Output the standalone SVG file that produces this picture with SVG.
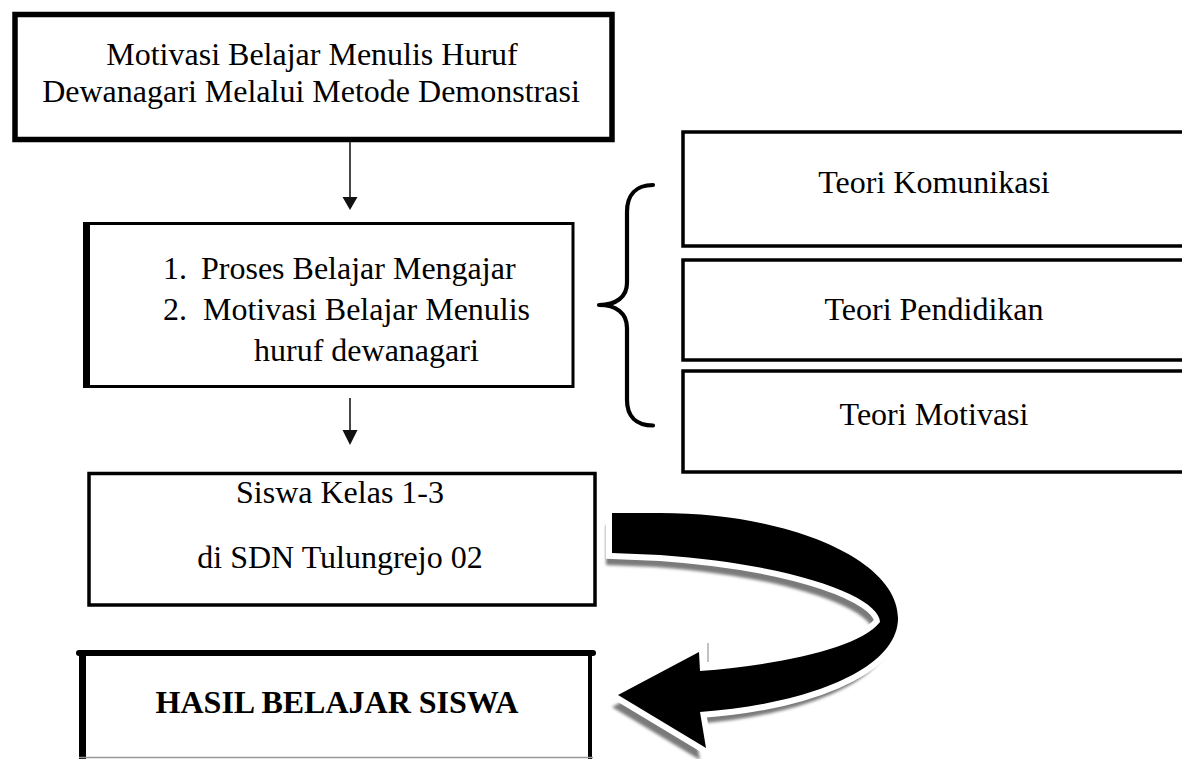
<svg xmlns="http://www.w3.org/2000/svg" width="1182" height="759" viewBox="0 0 1182 759">
<style>
  .t { font-family: "Liberation Serif", "Times New Roman", serif; font-size: 32px; fill: #000; }
  .c { text-anchor: middle; }
  .b { font-weight: bold; }
  .box { fill: #fff; stroke: #000; stroke-width: 3.5; }
  .conn { stroke: #333; stroke-width: 1.8; fill: none; }
  .head { fill: #111; }
</style>
<defs>
  <filter id="blur" x="-10%" y="-10%" width="120%" height="120%">
    <feGaussianBlur stdDeviation="1.6"/>
  </filter>
</defs>
<rect width="1182" height="759" fill="#fff"/>

<g id="node-top">
  <rect x="15" y="14.5" width="597" height="125" class="box" style="stroke-width:5.5"/>
  <text class="t c" x="312" y="65">Motivasi Belajar Menulis Huruf</text>
  <text class="t c" x="311" y="102">Dewanagari Melalui Metode Demonstrasi</text>
</g>

<g id="node-proses">
  <rect x="85" y="223.5" width="488" height="163" class="box" style="stroke-width:3"/>
  <line x1="86.5" y1="222" x2="86.5" y2="388" stroke="#000" stroke-width="7"/>
  <text class="t" x="163" y="279">1.</text>
  <text class="t" x="201" y="279">Proses Belajar Mengajar</text>
  <text class="t" x="163" y="320">2.</text>
  <text class="t" x="203" y="320">Motivasi Belajar Menulis</text>
  <text class="t" x="254" y="361">huruf dewanagari</text>
</g>

<g id="node-komunikasi">
  <rect x="683" y="132" width="520" height="114" class="box"/>
  <text class="t c" x="934" y="193">Teori Komunikasi</text>
</g>

<g id="node-pendidikan">
  <rect x="683" y="260" width="520" height="100" class="box"/>
  <text class="t c" x="934" y="320">Teori Pendidikan</text>
</g>

<g id="node-motivasi">
  <rect x="683" y="371" width="520" height="101" class="box"/>
  <text class="t c" x="934" y="425">Teori Motivasi</text>
</g>

<g id="node-siswa">
  <rect x="89" y="473.5" width="506" height="131.5" class="box"/>
  <text class="t c" x="340" y="503">Siswa Kelas 1-3</text>
  <text class="t c" x="340" y="568">di SDN Tulungrejo 02</text>
</g>

<g id="node-hasil">
  <line x1="79" y1="653" x2="593" y2="653" stroke="#000" stroke-width="6" stroke-linecap="round"/>
  <line x1="82.5" y1="650" x2="82.5" y2="759" stroke="#000" stroke-width="7"/>
  <line x1="590" y1="653" x2="590" y2="759" stroke="#000" stroke-width="4"/>
  <line x1="79" y1="757.5" x2="593" y2="757.5" stroke="#999" stroke-width="1.5"/>
  <text class="t c b" x="337" y="713">HASIL BELAJAR SISWA</text>
</g>

<g id="connectors">
  <line x1="350" y1="142" x2="350" y2="198" class="conn"/>
  <polygon points="342.5,197 357.5,197 350,210" class="head"/>
  <line x1="350" y1="398" x2="350" y2="430" class="conn"/>
  <polygon points="342.5,430 357.5,430 350,445" class="head"/>

  <path d="M653,185 C636,185 627,195 627,212 L627,283 C627,297 616,305 599,305 C616,305 627,313 627,328 L627,400 C627,416 636,425.5 653,425.5" fill="none" stroke="#000" stroke-width="4.2" stroke-linecap="round" stroke-linejoin="round"/>

  <g id="curved-arrow">
    <path transform="translate(-6,12)" filter="url(#blur)" fill="#7a7a7a" d="M612,513 L660,513 C790,513 898,560 898,618 C898,672 800,705 700,712 L706,748 L618,695 L699,652 L700,671 C780,665 860,648 880,622 C880,598 800,565 660,555 L612,553 Z"/>
    <path fill="#000" stroke="#fff" stroke-width="12" stroke-linejoin="miter" paint-order="stroke" d="M612,513 L660,513 C790,513 898,560 898,618 C898,672 800,705 700,712 L706,748 L618,695 L699,652 L700,671 C780,665 860,648 880,622 C880,598 800,565 660,555 L612,553 Z"/>
    <line x1="708" y1="643" x2="708" y2="662" stroke="#999" stroke-width="1.2"/>
  </g>
</g>
</svg>
